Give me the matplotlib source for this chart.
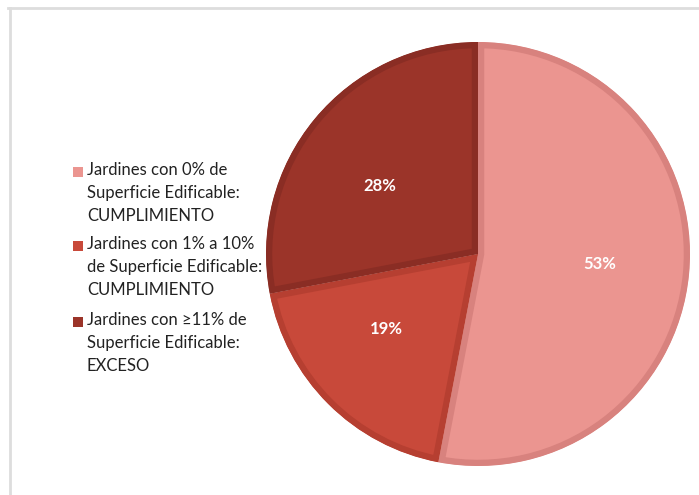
import matplotlib
matplotlib.use("Agg")
import matplotlib.pyplot as plt
from matplotlib.lines import Line2D
from matplotlib.patches import Rectangle

categories = [
    "Jardines con 0% de\nSuperficie Edificable:\nCUMPLIMIENTO",
    "Jardines con 1% a 10%\nde Superficie Edificable:\nCUMPLIMIENTO",
    "Jardines con \u226511% de\nSuperficie Edificable:\nEXCESO",
]
values = [53, 19, 28]
pct_labels = ["53%", "19%", "28%"]
face_colors = ["#EB9590", "#C8493A", "#9B3429"]
edge_colors = ["#D8827E", "#B63F31", "#8A2D24"]

plt.rcParams['font.family'] = ['Lato', 'DejaVu Sans']

W, H = 699, 495
fig = plt.figure(figsize=(W / 100, H / 100), dpi=100)
fig.patch.set_facecolor("white")

# pie axes: center (478,254), radius 212 px
cx, cy, r = 478, 254, 212
ax = fig.add_axes([(cx - r) / W, 1 - (cy + r) / H, 2 * r / W, 2 * r / H])
wedges, texts = ax.pie(values, startangle=90, counterclock=False,
                       colors=face_colors, radius=1.0,
                       labels=pct_labels, labeldistance=0.5,
                       textprops=dict(color="white", fontsize=12, fontweight="bold"))
for w, ec in zip(wedges, edge_colors):
    w.set_edgecolor(ec)
    w.set_linewidth(9)
    w.set_clip_on(True)
    w.set_clip_path(w)
ax.set_xlim(-1, 1)
ax.set_ylim(-1, 1)
ax.set_aspect("equal")
ax.axis("off")

# legend (manual)
entry_y = [172, 246, 322]
for lab, col, yy in zip(categories, face_colors, entry_y):
    fig.patches.append(Rectangle((73 / W, 1 - (yy + 5) / H), 10 / W, 10 / H,
                                 transform=fig.transFigure, facecolor=col,
                                 edgecolor="none"))
    fig.text(87 / W, 1 - (yy - 10) / H, lab, ha="left", va="top",
             fontsize=12, color="#222222", linespacing=1.55)

# frame lines
fig.add_artist(Line2D([8 / W, 1], [1 - 8 / H, 1 - 8 / H], color="#DDDDDD",
                      lw=2, transform=fig.transFigure))
fig.add_artist(Line2D([10 / W, 10 / W], [0, 1 - 8 / H], color="#DDDDDD",
                      lw=2, transform=fig.transFigure))

fig.savefig("out.png", dpi=100, facecolor="white")
